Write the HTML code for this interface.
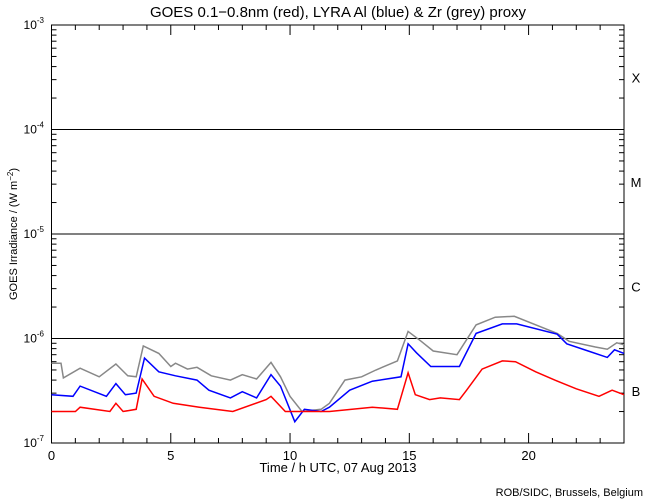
<!DOCTYPE html>
<html><head><meta charset="utf-8"><style>
body{margin:0;background:#fff;}
svg{display:block;font-family:"Liberation Sans",sans-serif;}
</style></head><body>
<svg id="chart" width="650" height="500">
<rect x="0" y="0" width="650" height="500" fill="#fff"/>
<text x="338" y="17" text-anchor="middle" font-size="15">GOES 0.1−0.8nm (red), LYRA Al (blue) &amp; Zr (grey) proxy</text>
<text transform="translate(17,234) rotate(-90)" text-anchor="middle" font-size="11">GOES Irradiance / (W m<tspan dy="-4" font-size="8">−2</tspan><tspan dy="4">)</tspan></text>
<text x="338" y="472" text-anchor="middle" font-size="13">Time / h UTC, 07 Aug 2013</text>
<text x="643" y="496" text-anchor="end" font-size="11">ROB/SIDC, Brussels, Belgium</text>
<g id="axes"></g>
<g id="series"></g>
</svg>
<script>
const hoursRed=[0,1.0,1.2,2.45,2.7,3.0,3.55,3.8,4.3,5.1,6.2,7.6,9.0,9.2,9.8,10.5,11.65,13.45,14.5,14.95,15.25,15.85,16.3,17.1,17.4,18.05,18.9,19.45,20.3,21.1,22.0,22.95,23.5,24];
const valuesRed=[2.0e-7,2.0e-7,2.2e-7,2.0e-7,2.4e-7,2.0e-7,2.1e-7,4.1e-7,2.8e-7,2.4e-7,2.2e-7,2.0e-7,2.6e-7,2.8e-7,2.0e-7,2.0e-7,2.0e-7,2.2e-7,2.1e-7,4.7e-7,2.9e-7,2.6e-7,2.7e-7,2.6e-7,3.2e-7,5.1e-7,6.1e-7,6.0e-7,4.8e-7,4.0e-7,3.3e-7,2.8e-7,3.2e-7,2.9e-7];
const hoursBlue=[0,0.9,1.2,2.3,2.7,3.1,3.55,3.9,4.5,5.2,6.1,6.6,7.5,8.0,8.6,9.2,9.6,10.2,10.6,11.3,11.65,12.5,13.45,14.65,14.95,15.3,15.9,17.1,17.8,18.9,19.5,21.2,21.6,22.5,23.3,23.6,24];
const valuesBlue=[2.9e-7,2.8e-7,3.5e-7,2.8e-7,3.7e-7,2.9e-7,3.0e-7,6.5e-7,4.8e-7,4.4e-7,4.0e-7,3.2e-7,2.7e-7,3.1e-7,2.7e-7,4.5e-7,3.5e-7,1.6e-7,2.1e-7,2.0e-7,2.2e-7,3.2e-7,3.9e-7,4.3e-7,8.9e-7,7.3e-7,5.4e-7,5.4e-7,1.12e-6,1.38e-6,1.38e-6,1.1e-6,8.9e-7,7.6e-7,6.6e-7,7.8e-7,7.2e-7];
const hoursGrey=[0,0.4,0.5,1.2,2.0,2.7,3.2,3.55,3.85,4.5,5.0,5.2,5.7,6.1,6.7,7.5,8.0,8.6,9.2,9.6,10.0,10.5,11.3,11.65,12.3,13.0,13.6,14.5,14.95,15.5,16.0,17.0,17.8,18.6,19.4,21.2,21.7,22.8,23.3,23.7,24];
const valuesGrey=[5.8e-7,5.8e-7,4.2e-7,5.2e-7,4.3e-7,5.7e-7,4.4e-7,4.3e-7,8.5e-7,7.2e-7,5.4e-7,5.8e-7,5.1e-7,5.3e-7,4.4e-7,4.0e-7,4.5e-7,4.1e-7,5.9e-7,4.3e-7,2.8e-7,2.0e-7,2.1e-7,2.4e-7,4.0e-7,4.3e-7,5.0e-7,6.1e-7,1.17e-6,9.4e-7,7.6e-7,7.0e-7,1.35e-6,1.6e-6,1.63e-6,1.12e-6,9.4e-7,8.3e-7,7.9e-7,9.1e-7,8.7e-7];
const xTicks=[0,5,10,15,20];
const yExps=[-3,-4,-5,-6,-7];
const classLabels=["X","M","C","B"];

const L=51.5,R=624,T=25,B=443;
const NS="http://www.w3.org/2000/svg";
function X(h){return L+(R-L)*h/24;}
function Y(v){return B-(B-T)*(Math.log10(v)+7)/4;}
function mk(tag,attrs,parent){const e=document.createElementNS(NS,tag);for(const k in attrs)e.setAttribute(k,attrs[k]);parent.appendChild(e);return e;}
const ax=document.getElementById('axes');
let f=mk('rect',{x:L,y:T,width:R-L,height:B-T,fill:'none',stroke:'#000','stroke-width':1},ax);


// decade lines
[1e-4,1e-5,1e-6].forEach(v=>{const l=mk('line',{x1:L,x2:R,y1:Y(v),y2:Y(v),stroke:'#000','stroke-width':1},ax);

});
// y ticks
for(let e=-7;e<-3;e++){for(let m=1;m<10;m++){const v=m*Math.pow(10,e);const y=Y(v);const len=m===1?10:5;
mk('line',{x1:L,x2:L+len,y1:y,y2:y,stroke:'#000'},ax);mk('line',{x1:R,x2:R-len,y1:y,y2:y,stroke:'#000'},ax);}}
yExps.forEach(e=>{const t=mk('text',{x:44,y:Y(Math.pow(10,e))+4,'text-anchor':'end','font-size':12},ax);


t.innerHTML='10<tspan dy="-6" font-size="8">'+e+'</tspan>';});
// x ticks
for(let h=0;h<=24;h++){const x=X(h);const len=h%5===0?10:5;
mk('line',{x1:x,x2:x,y1:B,y2:B-len,stroke:'#000'},ax);mk('line',{x1:x,x2:x,y1:T,y2:T+len,stroke:'#000'},ax);}
xTicks.forEach(h=>{const t=mk('text',{x:X(h),y:460,'text-anchor':'middle','font-size':13},ax);


t.textContent=h;});
classLabels.forEach((c,i)=>{const e=-3-i;const y=(Y(Math.pow(10,e))+Y(Math.pow(10,e-1)))/2;
const t=mk('text',{x:636,y:y+5,'text-anchor':'middle','font-size':13},ax);


t.textContent=c;});
const sg=document.getElementById('series');
function line(hs,vs,color,name){const pts=hs.map((h,i)=>X(h).toFixed(1)+','+Y(vs[i]).toFixed(1)).join(' ');
const p=mk('polyline',{points:pts,fill:'none',stroke:color,'stroke-width':1.5},sg);

}
line(hoursGrey,valuesGrey,'#888888','zr-grey-series');
line(hoursBlue,valuesBlue,'#0000ff','al-blue-series');
line(hoursRed,valuesRed,'#ff0000','goes-red-series');
</script>
</body></html>
